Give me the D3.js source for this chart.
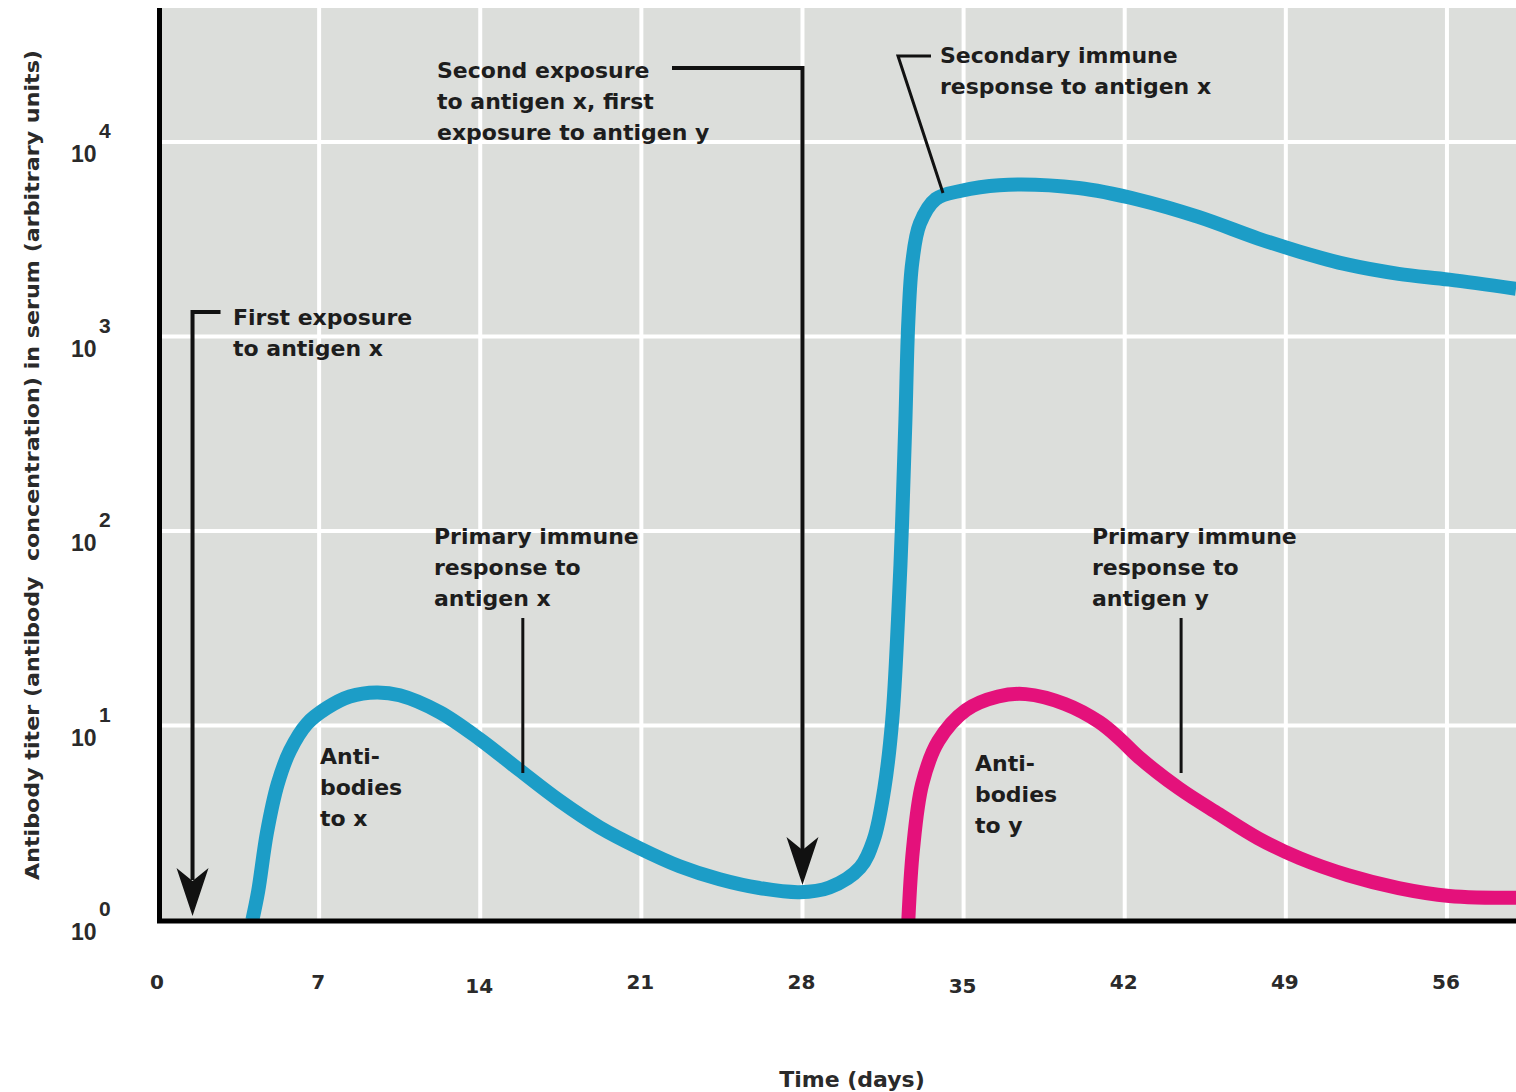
<!DOCTYPE html>
<html>
<head>
<meta charset="utf-8">
<script src="https://cdn.jsdelivr.net/npm/d3@7/dist/d3.min.js"></script>
<style>
  body { margin: 0; background: #fff; }
  svg { display: block; }
  text { font-family: "DejaVu Sans", sans-serif; font-weight: bold; fill: #1d1d1d; white-space: pre; }
</style>
</head>
<body>
<div id="grafico"></div>
<script>
// Dados (dias x título de anticorpos)
const ticksDias = [0, 7, 14, 21, 28, 35, 42, 49, 56];
const expoentes = [0, 1, 2, 3, 4];

// Anticorpos contra x (curva azul)
const diasX = [4.1, 4.35, 4.73, 5.2, 5.73, 6.47, 7.33, 8.33, 9.5, 10.5, 12.24, 13.98, 15.7, 17.45, 19.18,
  20.92, 22.66, 24.4, 26.13, 27.87, 29.17, 30.5, 31.1, 31.55, 31.9, 32.15, 32.33, 32.47, 32.6, 32.77,
  33.1, 33.8, 34.85, 36.55, 40.0, 42.6, 45.2, 47.8, 49.6, 51.7, 53.9, 56.1, 59.0];
const tituloX = [1.0, 1.4, 2.8, 5.0, 7.4, 10.2, 12.3, 14.1, 14.8, 14.3, 11.7, 8.5, 5.9, 4.1, 3.0,
  2.34, 1.89, 1.62, 1.46, 1.39, 1.47, 1.86, 2.6, 4.7, 10.7, 35, 112, 363, 1200, 2400,
  3800, 5100, 5600, 6000, 5800, 5050, 4120, 3190, 2730, 2340, 2100, 1960, 1760];

// Anticorpos contra y (curva rosa)
const diasY = [32.6, 32.8, 33.2, 33.9, 35.1, 36.5, 37.7, 39.4, 40.9, 41.8, 42.6, 44.36, 46.1, 47.8, 49.6, 51.7, 53.9, 56.1, 59.0];
const tituloY = [1.0, 2.3, 5.0, 8.3, 12.0, 14.1, 14.5, 12.9, 10.4, 8.5, 6.9, 4.75, 3.5, 2.63, 2.08, 1.70, 1.46, 1.33, 1.30];

// Exposições aos antígenos (dia)
const diaPrimeiraExposicao = 1.5;
const diaSegundaExposicao = 28;

function criarGrafico() {
  const largura = 1516;
  const altura = 1092;
  const area = { left: 160, right: 1516, top: 8, bottom: 920 };

  const svg = d3.select('#grafico')
    .append('svg')
    .attr('width', largura)
    .attr('height', altura);

  // Escalas
  const x = d3.scaleLinear().domain([0, 59]).range([158, 1516]);
  const y = d3.scaleLog().domain([1, 1e4]).range([920, 142]);

  // Fundo cinza
  svg.append('rect')
    .attr('x', area.left).attr('y', area.top)
    .attr('width', area.right - area.left)
    .attr('height', area.bottom - area.top)
    .attr('fill', '#dcdedb');

  // Grade branca
  svg.append('g')
    .selectAll('line')
    .data(ticksDias.filter((d) => d > 0))
    .enter()
    .append('line')
    .attr('x1', (d) => x(d)).attr('x2', (d) => x(d))
    .attr('y1', area.top).attr('y2', area.bottom)
    .attr('stroke', '#fff').attr('stroke-width', 4);

  svg.append('g')
    .selectAll('line')
    .data(expoentes.filter((d) => d > 0))
    .enter()
    .append('line')
    .attr('x1', area.left).attr('x2', area.right)
    .attr('y1', (d) => y(10 ** d)).attr('y2', (d) => y(10 ** d))
    .attr('stroke', '#fff').attr('stroke-width', 4);

  // Curvas
  svg.append('clipPath').attr('id', 'recorte')
    .append('rect')
    .attr('x', area.left).attr('y', area.top)
    .attr('width', area.right - area.left)
    .attr('height', area.bottom - area.top);

  const linha = d3.line()
    .x((d) => x(d[0]))
    .y((d) => y(d[1]))
    .curve(d3.curveCatmullRom.alpha(0.5));

  const curvas = svg.append('g').attr('clip-path', 'url(#recorte)');
  curvas.append('path')
    .datum(diasY.map((d, i) => [d, tituloY[i]]))
    .attr('d', linha)
    .attr('fill', 'none')
    .attr('stroke', '#e4117b')
    .attr('stroke-width', 14);
  curvas.append('path')
    .datum(diasX.map((d, i) => [d, tituloX[i]]))
    .attr('d', linha)
    .attr('fill', 'none')
    .attr('stroke', '#1c9dc7')
    .attr('stroke-width', 14);

  // Eixos
  svg.append('line')
    .attr('x1', 159.5).attr('x2', 159.5)
    .attr('y1', area.top).attr('y2', 923)
    .attr('stroke', '#000').attr('stroke-width', 5);
  svg.append('line')
    .attr('x1', 157).attr('x2', area.right)
    .attr('y1', 921).attr('y2', 921)
    .attr('stroke', '#000').attr('stroke-width', 5);

  // Rótulos do eixo X
  const ajusteX = { 14: 4, 35: 4 };
  svg.append('g')
    .selectAll('text')
    .data(ticksDias)
    .enter()
    .append('text')
    .attr('x', (d) => x(d) - 1)
    .attr('y', (d) => 989 + (ajusteX[d] || 0))
    .attr('text-anchor', 'middle')
    .style('font-size', '20px')
    .style('fill', '#2a2a2a')
    .text((d) => d);

  // Rótulos do eixo Y (10 com expoente)
  const rotY = svg.append('g')
    .selectAll('g')
    .data(expoentes)
    .enter()
    .append('g');
  rotY.append('text')
    .attr('x', 71)
    .attr('y', (d) => y(10 ** d) + 20)
    .style('font-family', '"Liberation Sans", Arial, sans-serif')
    .style('font-size', '23px')
    .style('fill', '#2a2a2a')
    .text('10');
  rotY.append('text')
    .attr('x', 99)
    .attr('y', (d) => y(10 ** d) - 4)
    .style('font-family', '"Liberation Sans", Arial, sans-serif')
    .style('font-size', '21px')
    .style('fill', '#2a2a2a')
    .text((d) => d);

  // Títulos dos eixos
  svg.append('text')
    .attr('transform', 'translate(39,465) rotate(-90)')
    .attr('text-anchor', 'middle')
    .attr('textLength', 830)
    .attr('lengthAdjust', 'spacingAndGlyphs')
    .style('font-size', '20px')
    .style('fill', '#2a2a2a')
    .text('Antibody titer (antibody  concentration) in serum (arbitrary units)');

  svg.append('text')
    .attr('x', 852).attr('y', 1087)
    .attr('text-anchor', 'middle')
    .style('font-size', '22px')
    .style('fill', '#2a2a2a')
    .text('Time (days)');

  // Anotações
  const notas = svg.append('g');

  function bloco(xp, yp, linhas) {
    const t = notas.append('text').attr('x', xp).attr('y', yp).style('font-size', '22px');
    linhas.forEach((l, i) => {
      t.append('tspan').attr('x', xp).attr('dy', i === 0 ? 0 : 31).text(l);
    });
  }

  function traco(pontos, espessura) {
    notas.append('path')
      .attr('d', d3.line()(pontos))
      .attr('fill', 'none')
      .attr('stroke', '#111')
      .attr('stroke-width', espessura);
  }

  function ponta(xp, yp) {
    notas.append('path')
      .attr('d', `M${xp},${yp} L${xp - 16},${yp - 48} L${xp},${yp - 35} L${xp + 16},${yp - 48} Z`)
      .attr('fill', '#111');
  }

  // Primeira exposição ao antígeno x
  const xa = x(diaPrimeiraExposicao);
  traco([[xa + 28, 312], [xa, 312], [xa, 880]], 4);
  ponta(xa, 916);
  bloco(233, 325, ['First exposure', 'to antigen x']);

  // Segunda exposição
  const xb = x(diaSegundaExposicao);
  traco([[672, 68], [xb, 68], [xb, 850]], 4);
  ponta(xb, 885);
  bloco(437, 78, ['Second exposure', 'to antigen x, first', 'exposure to antigen y']);

  // Resposta secundária
  traco([[931, 56], [898, 56], [943, 193]], 3);
  bloco(940, 63, ['Secondary immune', 'response to antigen x']);

  // Respostas primárias
  traco([[x(15.85), 618], [x(15.85), 773]], 3);
  bloco(434, 544, ['Primary immune', 'response to', 'antigen x']);
  traco([[x(44.45), 618], [x(44.45), 773]], 3);
  bloco(1092, 544, ['Primary immune', 'response to', 'antigen y']);

  // Nomes das curvas
  bloco(320, 764, ['Anti-', 'bodies', 'to x']);
  bloco(975, 771, ['Anti-', 'bodies', 'to y']);
}

criarGrafico();
</script>
</body>
</html>
